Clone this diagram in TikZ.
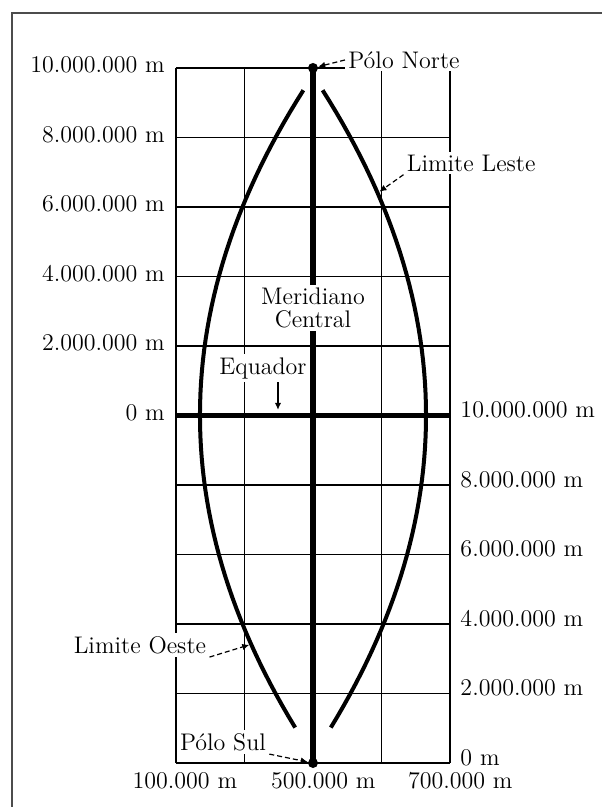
\documentclass[tikz,border=0pt]{standalone}
\usepackage{fontspec}
\usepackage{tikz}
\usetikzlibrary{arrows.meta,positioning,calc}
\tikzset{
    gridline/.style={line width=0.8pt},
    frameline/.style={line width=0.8pt,black!70},
    equator/.style={line width=2.4pt},
    meridian/.style={line width=3pt},
    limit/.style={line width=2pt},
    pole/.style={circle,fill,inner sep=0pt,minimum size=5pt},
    tag/.style={fill=white,inner sep=1.5pt},
    pointer/.style={-{Latex[length=3.5pt,width=3.2pt]},line width=0.6pt,dash pattern=on 2.5pt off 1.5pt},
    solidpointer/.style={-{Latex[length=3.5pt,width=3.2pt]},line width=0.7pt}
}

\begin{document}
\begin{tikzpicture}[x=34.25pt,y=34.75pt,every node/.style={font=\fontsize{12}{11.5}\selectfont}]
    \useasboundingbox (-2.569,-0.633) rectangle (6.219,10.978);
    % frame
    \draw[frameline] (-2.394,-0.633) |- (6.219,10.791);

    % grid, equator and central meridian
    \draw[gridline,xstep=1,ystep=1] (0,0) grid (4,10);
    \draw[equator] (0,5) -- (4,5);
    \coordinate (pn) at (2,10);
    \coordinate (ps) at (2,0);
    \draw[meridian] (ps) -- (pn);

    % zone limits
    \foreach \s in {1,-1} {
        \draw[limit] plot[domain=0.51:9.68,samples=60] ({2+\s*1.65*(1-((\x-5)/4.892)^2)},\x);
    }

    % scale labels
    \foreach \i/\v in {0/0,1/2.000.000,2/4.000.000,3/6.000.000,4/8.000.000,5/10.000.000} {
        \node[anchor=east] (l\i) at (-0.06,5+\i+0.04) {\v\ m};
        \node[anchor=west] (r\i) at (4.05,\i+0.08) {\v\ m};
    }
    \node (b1) at (0.13,-0.26) {100.000 m};
    \node (b5) at (2.15,-0.26) {500.000 m};
    \node (b7) at (4.15,-0.26) {700.000 m};

    % named features
    \node[tag,align=center] (lmeridiano) at (2,6.547) {Meridiano\\Central};
    \node[tag] (lequador) at (1.27,5.683) {Equador};
    \coordinate (eqtip) at (1.489,5.08);
    \draw[solidpointer] (lequador.south -| eqtip) -- (eqtip);

    \node[tag] (lleste) at (4.31,8.633) {Limite Leste};
    \coordinate (leste) at (2.97,8.22);
    \draw[pointer] (lleste.south west) -- (leste);

    \node[tag] (loeste) at (-0.526,1.698) {Limite Oeste};
    \coordinate (oeste) at (1.07,1.70);
    \draw[pointer] (loeste.south east) -- (oeste);

    % poles
    \node[pole] (npole) at (pn) {};
    \node[pole] (spole) at (ps) {};
    \node[tag,anchor=west] (lnorte) at (2.467,10.115) {Pólo Norte};
    \draw[pointer] (lnorte.west) -- (npole);
    \node[tag] (lsul) at (0.686,0.302) {Pólo Sul};
    \draw[pointer] (lsul.south east) -- (spole);
\end{tikzpicture}
\end{document}
